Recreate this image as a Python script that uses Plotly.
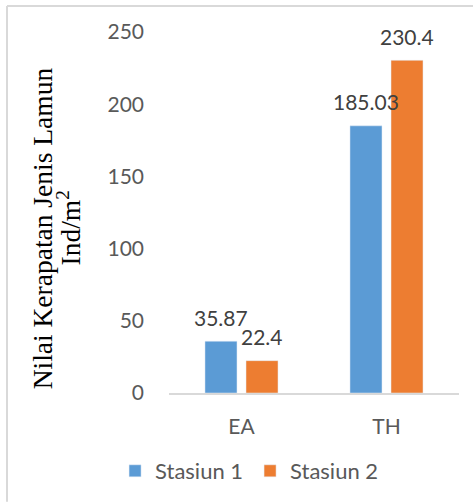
import plotly.graph_objects as go

categories = ["EA", "TH"]
stasiun1 = [35.87, 185.03]
stasiun2 = [22.4, 230.4]
series_names = ["Stasiun 1", "Stasiun 2"]
label1 = ["35.87", "185.03"]
label2 = ["22.4", "230.4"]
y_ticks = [0, 50, 100, 150, 200, 250]

BLUE = "#5B9BD5"
ORANGE = "#ED7D31"
GRAY_TXT = "#595959"
FONT = "Lato"

fig = go.Figure()
fig.add_trace(go.Bar(x=categories, y=stasiun1, name=series_names[0], marker_color=BLUE))
fig.add_trace(go.Bar(x=categories, y=stasiun2, name=series_names[1], marker_color=ORANGE))

annotations = []
for cat, v, t in zip(categories, stasiun1, label1):
    annotations.append(dict(x=cat, y=v, text=t, showarrow=False, xshift=-20.5, yshift=24,
                            yanchor="middle", font=dict(family=FONT, size=21, color="#404040")))
for cat, v, t in zip(categories, stasiun2, label2):
    annotations.append(dict(x=cat, y=v, text=t, showarrow=False, xshift=20.5, yshift=24,
                            yanchor="middle", font=dict(family=FONT, size=21, color="#404040")))

title_font = dict(family="Liberation Serif, Times New Roman, serif", size=27.5, color="black")
annotations.append(dict(xref="paper", yref="paper", x=-0.4331, y=0.4572, text="Nilai Kerapatan Jenis Lamun",
                        textangle=-90, showarrow=False, xanchor="center", yanchor="middle", font=title_font))
annotations.append(dict(xref="paper", yref="paper", x=-0.3430, y=0.4572, text="Ind/m<sup>2</sup>",
                        textangle=-90, showarrow=False, xanchor="center", yanchor="middle", font=title_font))

shapes = [
    dict(type="line", xref="paper", yref="paper", x0=-0.5586, x1=1.0483, y0=1.0718, y1=1.0718,
         line=dict(color="#D9D9D9", width=2)),
    dict(type="line", xref="paper", yref="paper", x0=-0.5586, x1=-0.5586, y0=1.0718, y1=-0.3011,
         line=dict(color="#D9D9D9", width=2)),
]

fig.update_layout(
    width=473, height=503,
    margin=dict(l=169, r=14, t=32, b=109),
    paper_bgcolor="white", plot_bgcolor="white",
    barmode="group", bargap=0.434, bargroupgap=0.22,
    showlegend=True,
    legend=dict(orientation="h", x=-0.186, xanchor="left", y=-0.2127, yanchor="middle",
                font=dict(family=FONT, size=22, color=GRAY_TXT), entrywidth=90, entrywidthmode="pixels",
                itemclick=False),
    annotations=annotations,
    shapes=shapes,
    font=dict(family=FONT, color=GRAY_TXT),
)
fig.update_xaxes(showline=True, linecolor="#D9D9D9", linewidth=1.5, showgrid=False, ticks="",
                 tickfont=dict(family=FONT, size=21, color=GRAY_TXT), ticklabelstandoff=14)
fig.update_yaxes(range=[0, 250], tickvals=y_ticks, showgrid=False, zeroline=False, showline=False, ticks="",
                 tickfont=dict(family=FONT, size=21, color=GRAY_TXT), ticklabelstandoff=24)

fig.write_html("out.html")
